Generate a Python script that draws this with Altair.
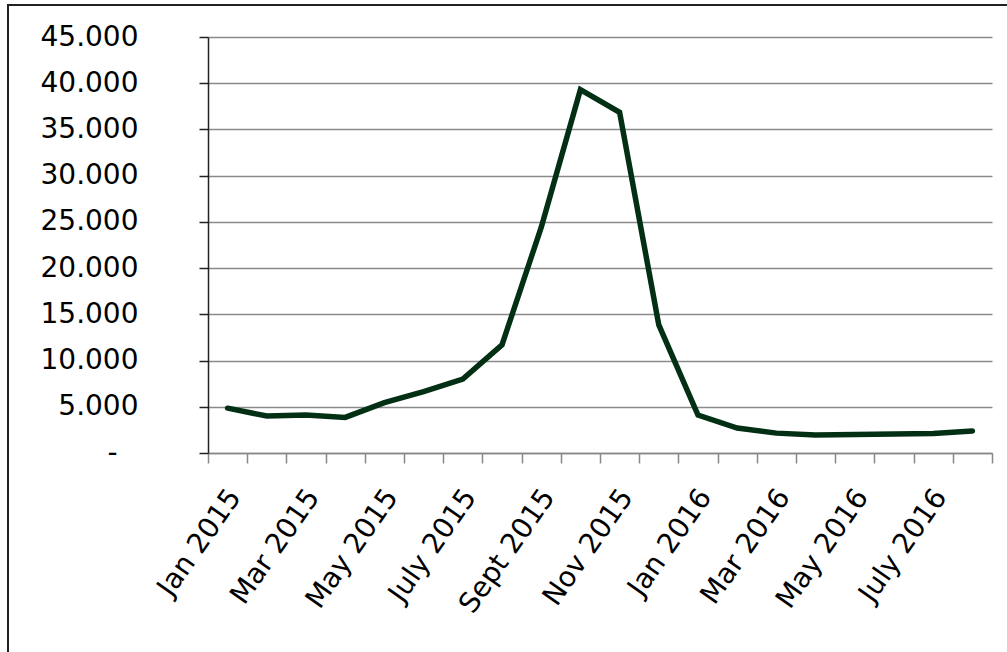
import json
import altair as alt
import pandas as pd

months = [
    "Jan 2015", "Feb 2015", "Mar 2015", "Apr 2015", "May 2015", "June 2015",
    "July 2015", "Aug 2015", "Sept 2015", "Oct 2015", "Nov 2015", "Dec 2015",
    "Jan 2016", "Feb 2016", "Mar 2016", "Apr 2016", "May 2016", "June 2016",
    "July 2016", "Aug 2016",
]
values = [
    4850, 4000, 4100, 3850, 5450, 6650, 8000, 11700, 24400, 39300, 36850, 13850,
    4100, 2700, 2150, 1950, 2000, 2050, 2120, 2380,
]
y_ticks = [0, 5000, 10000, 15000, 20000, 25000, 30000, 35000, 40000, 45000]

df = pd.DataFrame({"month": months, "idx": list(range(len(months))), "value": values})

label_arr = [m if k % 2 == 0 else "" for k, m in enumerate(months)] + [""]
x_label_expr = f"{json.dumps(label_arr)}[round(datum.value + 0.5)]"
y_label_expr = "datum.value == 0 ? '-' : replace(format(datum.value, ','), ',', '.')"

FONT = "DejaVu Sans"

line = alt.Chart(df).mark_line(
    color="#033014", strokeWidth=5.5, strokeCap="round", strokeJoin="miter"
).encode(
    x=alt.X(
        "idx:Q",
        scale=alt.Scale(domain=[-0.5, len(months) - 0.5], nice=False, zero=False),
        axis=alt.Axis(
            values=[k - 0.5 for k in range(len(months) + 1)],
            labelExpr=x_label_expr,
            labelAngle=-55,
            labelAlign="right",
            labelBaseline="middle",
            labelOffset=27,
            labelPadding=29,
            labelOverlap=False,
            labelFlush=False,
            labelBound=False,
            labelFont=FONT,
            labelFontSize=28,
            labelColor="#000000",
            tickSize=10,
            tickColor="#888888",
            tickWidth=1.5,
            domainColor="#888888",
            domainWidth=1.5,
            grid=False,
            title=None,
        ),
    ),
    y=alt.Y(
        "value:Q",
        scale=alt.Scale(domain=[0, 45000], nice=False),
        axis=alt.Axis(
            values=y_ticks,
            labelExpr=y_label_expr,
            labelFont=FONT,
            labelFontSize=28,
            labelColor="#000000",
            labelPadding={"condition": {"test": "datum.value == 0", "value": 82}, "value": 61},
            tickSize=9,
            tickColor="#222222",
            tickWidth=1.5,
            domainColor="#222222",
            domainWidth=1.5,
            grid=True,
            gridColor="#8a8a8a",
            gridWidth=1.6,
            title=None,
        ),
    ),
)

border = alt.Chart(df).mark_rect(
    fill=None, stroke="#222222", strokeWidth=2, clip=False
).encode(
    x=alt.value(-200), x2=alt.value(830), y=alt.value(-32), y2=alt.value(640)
).transform_filter("datum.idx == 0")

chart = alt.layer(border, line).properties(
    width=784,
    height=416,
    autosize=alt.AutoSizeParams(type="none"),
    padding={"left": 208, "top": 37, "right": 15, "bottom": 199},
    background="white",
).configure_view(stroke=None)

chart.save("out.html", embed_options={"renderer": "svg", "actions": False})
